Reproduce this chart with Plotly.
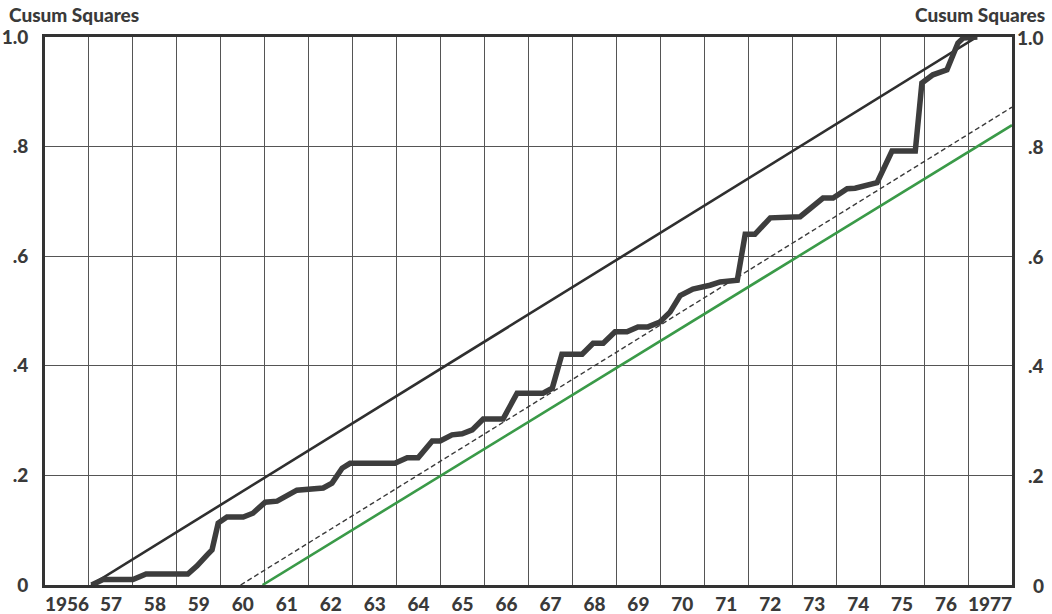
import plotly.graph_objects as go

# Cumulative sum of squared recursive residuals, by year (fractional years)
cusum_year = [1957.06, 1957.32, 1958.00, 1958.30, 1959.25, 1959.46, 1959.69, 1959.80,
              1959.94, 1960.14, 1960.51, 1960.73, 1961.01, 1961.28, 1961.73, 1962.33,
              1962.53, 1962.76, 1962.94, 1963.96, 1964.24, 1964.49, 1964.81, 1964.99,
              1965.26, 1965.49, 1965.72, 1965.97, 1966.42, 1966.74, 1967.33, 1967.54,
              1967.76, 1968.22, 1968.47, 1968.70, 1968.97, 1969.24, 1969.49, 1969.72,
              1969.99, 1970.22, 1970.45, 1970.74, 1971.13, 1971.36, 1971.75, 1971.93,
              1972.15, 1972.50, 1973.18, 1973.47, 1973.70, 1973.93, 1974.25, 1974.43,
              1974.70, 1974.93, 1975.27, 1975.80, 1975.95, 1976.20, 1976.52, 1976.66,
              1976.77, 1976.89, 1977.21]
cusum_value = [0.000, 0.010, 0.010, 0.020, 0.020, 0.035, 0.055, 0.064,
               0.113, 0.124, 0.124, 0.131, 0.151, 0.153, 0.173, 0.177,
               0.186, 0.213, 0.222, 0.222, 0.232, 0.232, 0.263, 0.263,
               0.274, 0.276, 0.283, 0.303, 0.303, 0.350, 0.350, 0.359,
               0.421, 0.421, 0.441, 0.441, 0.462, 0.462, 0.471, 0.471,
               0.480, 0.498, 0.528, 0.540, 0.547, 0.553, 0.556, 0.640,
               0.640, 0.670, 0.672, 0.690, 0.706, 0.706, 0.723, 0.724,
               0.730, 0.734, 0.792, 0.792, 0.916, 0.931, 0.940, 0.970,
               0.989, 0.998, 1.000]

# Reference lines
upper_year = [1957.05, 1977.2]
upper_value = [0.0, 1.0]
dashed_year = [1960.45, 1978.0]
dashed_value = [0.0, 0.872]
green_year = [1960.95, 1978.0]
green_value = [0.0, 0.839]

# Axis labels
year_labels = ["1956", "57", "58", "59", "60", "61", "62", "63", "64", "65", "66",
               "67", "68", "69", "70", "71", "72", "73", "74", "75", "76", "1977"]
year_starts = list(range(1956, 1978))
y_ticks = [0, 0.2, 0.4, 0.6, 0.8, 1.0]
y_labels = ["0", ".2", ".4", ".6", ".8", "1.0"]

FONT = "Lato, Roboto, DejaVu Sans, sans-serif"
INK = "#333333"
TEXT = "#3a3a3a"

# Plot-area geometry in pixels
W, H = 1052, 614
L, R, T, B = 45, 40, 37, 29
PW, PH = W - L - R, H - T - B

fig = go.Figure()
fig.add_trace(go.Scatter(x=green_year, y=green_value, mode="lines",
                         line=dict(color="#3a9a48", width=2.6), hoverinfo="skip"))
fig.add_trace(go.Scatter(x=dashed_year, y=dashed_value, mode="lines",
                         line=dict(color="#3a3a3a", width=1.4, dash="5px,3px"), hoverinfo="skip"))
fig.add_trace(go.Scatter(x=upper_year, y=upper_value, mode="lines",
                         line=dict(color="#2f2f2f", width=2.6), hoverinfo="skip"))
fig.add_trace(go.Scatter(x=cusum_year, y=cusum_value, mode="lines",
                         line=dict(color="#3d3d3d", width=5.5), hoverinfo="skip"))

fig.update_layout(
    width=W, height=H,
    margin=dict(l=L, r=R, t=T, b=B),
    paper_bgcolor="white", plot_bgcolor="white",
    showlegend=False,
    font=dict(family=FONT, color=TEXT),
    xaxis=dict(
        range=[1956, 1978], automargin=False,
        tickmode="array",
        tickvals=[y + 0.5 for y in year_starts],
        ticktext=year_labels,
        tickfont=dict(size=19, family=FONT, color=TEXT, weight=900),
        ticks="", ticklabelstandoff=0,
        showgrid=False, zeroline=False,
        showline=True, linecolor=INK, linewidth=2.6, mirror=True,
        minor=dict(tickmode="linear", tick0=1956, dtick=1, showgrid=True,
                   gridcolor="#555555", gridwidth=1, ticks=""),
    ),
    yaxis=dict(
        range=[0, 1], automargin=False,
        tickmode="array", tickvals=y_ticks, ticktext=y_labels,
        tickfont=dict(size=19, family=FONT, color=TEXT, weight=900),
        ticks="", ticklabelstandoff=10,
        showgrid=True, gridcolor="#555555", gridwidth=1, zeroline=False,
        showline=True, linecolor=INK, linewidth=2.6, mirror=True,
    ),
)

# Right-hand scale, right-aligned
for v, t in zip(y_ticks, y_labels):
    fig.add_annotation(x=(1046 - L) / PW, y=v, xref="paper", yref="y", text=t,
                       showarrow=False, xanchor="right", yanchor="middle",
                       font=dict(size=19, family=FONT, color=TEXT, weight=900))

# Scale captions above both axes
caption_y = (H - B - 15) / PH
fig.add_annotation(x=(7 - L) / PW, y=caption_y, xref="paper", yref="paper",
                   text="Cusum Squares", showarrow=False, xanchor="left", yanchor="middle",
                   font=dict(size=19, family=FONT, color=TEXT, weight=900))
fig.add_annotation(x=(1047 - L) / PW, y=caption_y, xref="paper", yref="paper",
                   text="Cusum Squares", showarrow=False, xanchor="right", yanchor="middle",
                   font=dict(size=19, family=FONT, color=TEXT, weight=900))

fig.write_html("out.html")
